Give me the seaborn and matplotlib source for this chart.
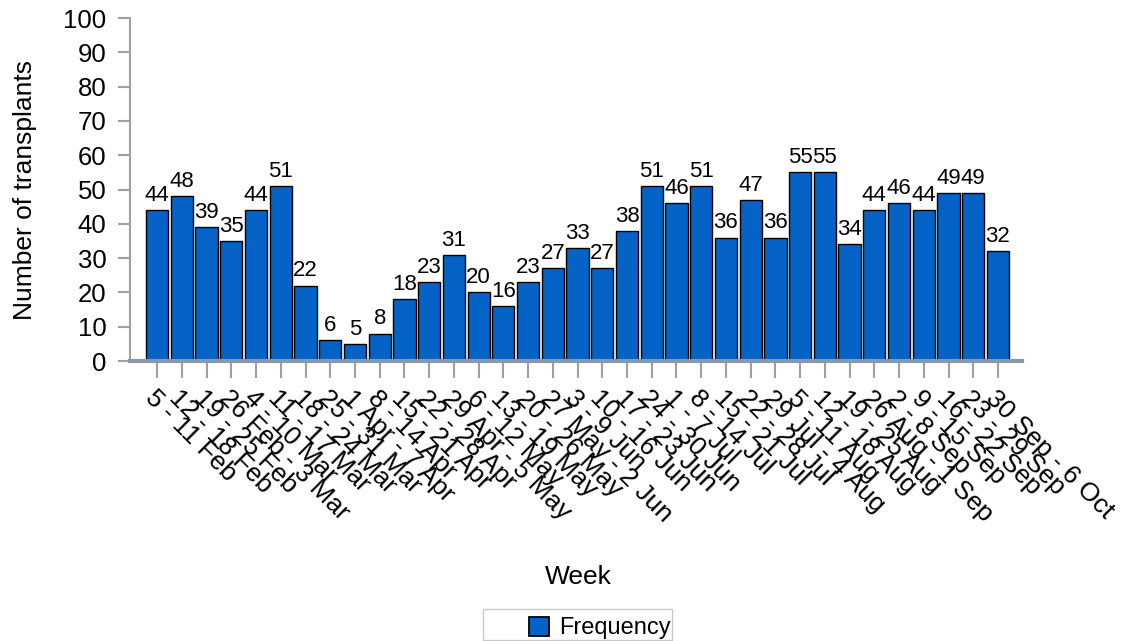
import matplotlib
matplotlib.use("Agg")
import matplotlib.pyplot as plt
import seaborn as sns
import pandas as pd
from matplotlib.patches import Patch, Rectangle

weeks = ["5 - 11 Feb", "12 - 18 Feb", "19 - 25 Feb", "26 Feb - 3 Mar", "4 - 10 Mar",
         "11 - 17 Mar", "18 - 24 Mar", "25 - 31 Mar", "1 Apr - 7 Apr", "8 - 14 Apr",
         "15 - 21 Apr", "22 - 28 Apr", "29 Apr - 5 May", "6 - 12 May", "13 - 19 May",
         "20 - 26 May", "27 May - 2 Jun", "3 - 9 Jun", "10 - 16 Jun", "17 - 23 Jun",
         "24 - 30 Jun", "1 - 7 Jul", "8 - 14 Jul", "15 - 21 Jul", "22 - 28 Jul",
         "29 Jul - 4 Aug", "5 - 11 Aug", "12 - 18 Aug", "19 - 25 Aug", "26 Aug - 1 Sep",
         "2 - 8 Sep", "9 - 15 Sep", "16 - 22 Sep", "23 - 29 Sep", "30 Sep - 6 Oct"]
counts = [44, 48, 39, 35, 44, 51, 22, 6, 5, 8, 18, 23, 31, 20, 16, 23, 27, 33, 27, 38,
          51, 46, 51, 36, 47, 36, 55, 55, 34, 44, 46, 44, 49, 49, 32]

df = pd.DataFrame({"Week": weeks, "Frequency": counts})

sns.set_style("white")
plt.rcParams["font.family"] = ["Liberation Sans", "DejaVu Sans"]
plt.rcParams["text.color"] = "black"
plt.rcParams["axes.labelcolor"] = "black"
plt.rcParams["xtick.color"] = "black"
plt.rcParams["ytick.color"] = "black"

W, H = 1127, 641
bar_color = "#0562C6"
fig = plt.figure(figsize=(W / 100, H / 100), dpi=100)
ax = fig.add_axes([0.1153, 0.4368, 0.7915, 0.5351])

sns.barplot(data=df, x="Week", y="Frequency", color=bar_color, saturation=1,
            edgecolor="black", linewidth=1.0, width=0.9, ax=ax)

ax.bar_label(ax.containers[0], padding=3, fontsize=16, color="black")

ax.set_ylim(0, 100)
ax.set_xlim(-1.1, 34.97)
ax.set_yticks(range(0, 101, 10))
ax.tick_params(axis="y", labelsize=18.5, length=9, width=1.5, color="#a0a0a0",
               labelcolor="black", direction="out", pad=8, left=True)
ax.tick_params(axis="x", labelsize=19, length=12, width=1.5, color="#a0a0a0",
               labelcolor="black", direction="out", pad=6, bottom=True)
for lbl in ax.get_xticklabels():
    lbl.set_rotation(-45)
    lbl.set_ha("left")
    lbl.set_rotation_mode("anchor")

for s in ["top", "right"]:
    ax.spines[s].set_visible(False)
ax.spines["left"].set_color("#a0a0a0")
ax.spines["left"].set_linewidth(1.5)
ax.spines["bottom"].set_color("#8a97a8")
ax.spines["bottom"].set_linewidth(3)

ax.set_ylabel("Number of transplants", fontsize=19, labelpad=19)
ax.set_xlabel("")
fig.text(578 / W, 1 - 577 / H, "Week", fontsize=19, ha="center", va="center")

# legend frame
fig.patches.append(Rectangle((483 / W, 1 - 640 / H), (672 - 483) / W, (640 - 609) / H,
                             transform=fig.transFigure, facecolor="white",
                             edgecolor="#c8c8c8", linewidth=1.0, zorder=0))
handle = Patch(facecolor=bar_color, edgecolor="black", linewidth=1.3, label="Frequency")
leg = fig.legend(handles=[handle], loc="center left",
                 bbox_to_anchor=(524 / W, 1 - 628 / H),
                 fontsize=17, frameon=False, handlelength=0.85,
                 handleheight=0.85, borderpad=0.2, handletextpad=0.45,
                 borderaxespad=0)

fig.savefig("out.png", dpi=100)
